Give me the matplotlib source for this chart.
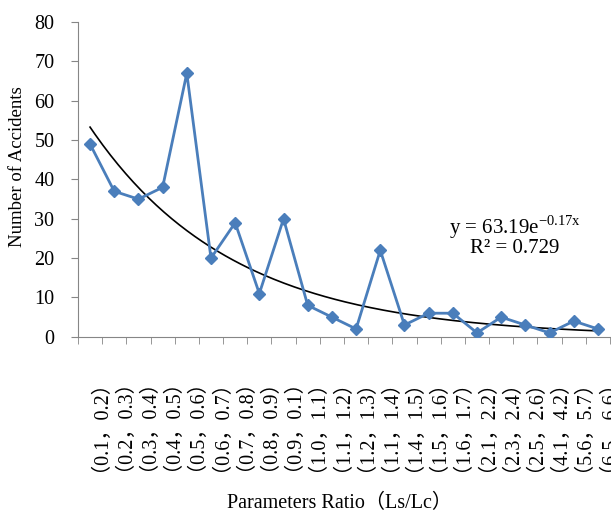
import matplotlib
matplotlib.use('Agg')
import matplotlib.pyplot as plt
import numpy as np

plt.rcParams['font.family'] = ['Liberation Serif', 'Noto Sans CJK SC']
plt.rcParams['mathtext.fontset'] = 'custom'
plt.rcParams['mathtext.rm'] = 'Liberation Serif'

# ratio ranges and accident counts
ranges = ['（0.1，0.2）', '（0.2，0.3）', '（0.3，0.4）', '（0.4，0.5）', '（0.5，0.6）',
          '（0.6，0.7）', '（0.7，0.8）', '（0.8，0.9）', '（0.9，0.1）', '（1.0，1.1）',
          '（1.1，1.2）', '（1.2，1.3）', '（1.1，1.4）', '（1.4，1.5）', '（1.5，1.6）',
          '（1.6，1.7）', '（2.1，2.2）', '（2.3，2.4）', '（2.5，2.6）', '（4.1，4.2）',
          '（5.6，5.7）', '（6.5，6.6）']
accidents = [49, 37, 35, 38, 67, 20, 29, 11, 30, 8, 5, 2, 22, 3, 6, 6, 1, 5, 3, 1, 4, 2]

# exponential fit y = a*exp(b*x)
fit_a = 63.19
fit_b = -0.17
fit_r2 = 0.729

fig = plt.figure(figsize=(6.11, 5.15), dpi=100)
ax = fig.add_axes([0.1276, 0.346, 0.8708, 0.611])

x = np.arange(1, len(accidents) + 1)
ax.plot(x, accidents, color='#4A7EBB', lw=2, marker='D', ms=6,
        markerfacecolor='#4A7EBB', markeredgecolor='#4A7EBB', zorder=3)

xs = np.linspace(1, len(accidents), 200)
ax.plot(xs, fit_a * np.exp(fit_b * xs), color='black', lw=1.2, zorder=2)

ax.set_xlim(0.5, len(accidents) + 0.5)
ax.set_ylim(0, 80)
ax.set_yticks(range(0, 81, 10))
ax.set_xticks(x)
ax.set_xticklabels(ranges, rotation=90, fontsize=14.5)
ax.set_xticks(np.arange(0.5, len(accidents) + 1), minor=True)
ax.tick_params(axis='x', which='major', length=0, pad=16.5)
ax.tick_params(axis='x', which='minor', length=5, color='#868686', direction='out')
ax.tick_params(axis='y', length=5, color='#868686', direction='out', labelsize=14.5, pad=12)

for side in ['top', 'right']:
    ax.spines[side].set_visible(False)
for side in ['left', 'bottom']:
    ax.spines[side].set_color('#868686')

ax.set_ylabel('Number of Accidents', fontsize=13.5)
ax.yaxis.set_label_coords(-0.0976, 0.54)
ax.text(0.4916, -0.5446, 'Parameters Ratio（Ls/Lc）', ha='center', va='baseline',
        fontsize=14.5, transform=ax.transAxes)

# fit equation, two lines, anchored on the baseline of the last line
ax.text(18.56, 21.4,
        'y = %.2fe$^{\\mathrm{%.2fx}}$\nR² = %.3f' % (fit_a, fit_b, fit_r2),
        ha='center', va='baseline', multialignment='center',
        fontsize=15, linespacing=0.85)

fig.savefig('out.png', dpi=100)
